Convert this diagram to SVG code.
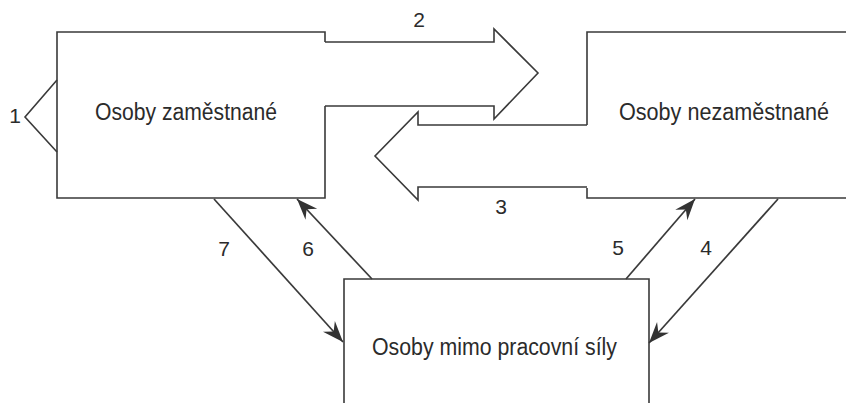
<svg xmlns="http://www.w3.org/2000/svg" width="846" height="403" viewBox="0 0 846 403">
  <style>
    .box { fill: #ffffff; stroke: #3a3a3a; stroke-width: 1.6; stroke-linejoin: miter; }
    .flow { fill: none; stroke: #3a3a3a; stroke-width: 1.6; stroke-linejoin: miter; }
    .line { fill: none; stroke: #3a3a3a; stroke-width: 1.7; marker-end: url(#head); }
    .lbl { font-family: "Liberation Sans", Arial, Helvetica, sans-serif; font-size: 23px; fill: #2b2b2b; }
    .num { font-family: "Liberation Sans", Arial, Helvetica, sans-serif; font-size: 21px; fill: #2b2b2b; text-anchor: middle; }
  </style>
  <defs>
    <marker id="head" viewBox="-24 -10 26 20" refX="0" refY="0" markerWidth="26" markerHeight="20" markerUnits="userSpaceOnUse" orient="auto">
      <path d="M0,0 L-21,-8 L-14,0 L-21,8 Z" fill="#333333"/>
    </marker>
  </defs>
  <rect width="846" height="403" fill="#ffffff"/>

  <g id="node-zamestnane">
    <path class="box" d="M325,42 L325,32 L57,32 L57,198 L325,198 L325,106"/>
    <text class="lbl" x="95" y="120" textLength="182" lengthAdjust="spacingAndGlyphs">Osoby zaměstnané</text>
  </g>

  <g id="node-nezamestnane">
    <path class="box" d="M587,125 L587,32 L850,32 L850,198 L587,198 L587,188"/>
    <text class="lbl" x="619" y="120" textLength="210" lengthAdjust="spacingAndGlyphs">Osoby nezaměstnané</text>
  </g>

  <g id="node-mimo">
    <path class="box" d="M344,410 L344,279 L649,279 L649,410"/>
    <text class="lbl" x="372" y="355" textLength="245" lengthAdjust="spacingAndGlyphs">Osoby mimo pracovní síly</text>
  </g>

  <g id="connectors">
    <polyline class="flow" points="57,80 25,117 57,152"/>
    <path class="flow" d="M325,42 L494,42 L494,29 L538,73 L494,119 L494,106 L325,106"/>
    <path class="flow" d="M587,125 L418,125 L418,112 L375,156 L418,200 L418,187 L587,187"/>
    <line class="line" x1="214" y1="199" x2="343" y2="342"/>
    <line class="line" x1="372" y1="279" x2="297" y2="199"/>
    <line class="line" x1="626" y1="279" x2="695" y2="199"/>
    <line class="line" x1="778" y1="199" x2="649" y2="343"/>
  </g>

  <g id="labels">
    <text class="num" x="15" y="123">1</text>
    <text class="num" x="419" y="27">2</text>
    <text class="num" x="501" y="214">3</text>
    <text class="num" x="706" y="255">4</text>
    <text class="num" x="618" y="255">5</text>
    <text class="num" x="308" y="256">6</text>
    <text class="num" x="224" y="256">7</text>
  </g>
</svg>
